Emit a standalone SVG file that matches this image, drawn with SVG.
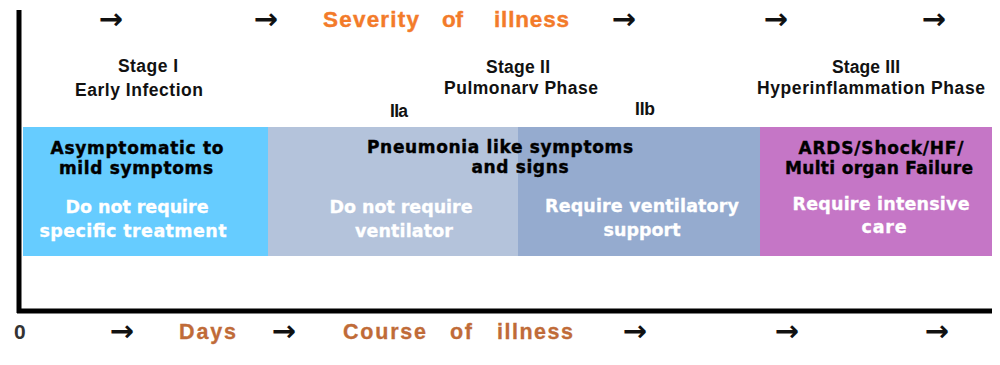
<svg xmlns="http://www.w3.org/2000/svg" width="1000" height="365" viewBox="0 0 1000 365">
<style>
text{font-family:"Liberation Sans",Arial,sans-serif;font-weight:bold;}
.lbl{font-size:17.5px;fill:#111;text-anchor:middle;}
.hd{font-family:"DejaVu Sans",sans-serif;font-size:17px;fill:#000;text-anchor:middle;stroke:#000;stroke-width:0.4px;}
.wt{font-family:"DejaVu Sans",sans-serif;font-size:17.5px;fill:#fff;text-anchor:middle;stroke:#fff;stroke-width:0.3px;}
.arr{font-family:"DejaVu Sans",sans-serif;font-size:29px;fill:#111;text-anchor:middle;}
.sev{font-size:22.5px;fill:#F37B2A;stroke:#F37B2A;stroke-width:0.4px;}
.crs{font-size:21.5px;fill:#C06B38;stroke:#C06B38;stroke-width:0.3px;}
.axis{stroke:#000;stroke-width:5;fill:none;}
</style>
<rect width="1000" height="365" fill="#fff"/>
<g id="connectors">
<line class="axis" x1="19" y1="10" x2="19" y2="313"/>
<line class="axis" x1="17" y1="311" x2="992" y2="311"/>
</g>
<g id="top-axis-label">
<text class="arr" x="111" y="29">→</text>
<text class="arr" x="266" y="29">→</text>
<text class="arr" x="624" y="29">→</text>
<text class="arr" x="776" y="29">→</text>
<text class="arr" x="934" y="29">→</text>
<text class="sev" y="27"><tspan x="323" textLength="96" lengthAdjust="spacing">Severity</tspan><tspan x="442" textLength="21" lengthAdjust="spacing">of</tspan><tspan x="494" textLength="75" lengthAdjust="spacing">illness</tspan></text>
</g>
<g id="stage-labels">
<text class="lbl" x="148" y="72" textLength="60" lengthAdjust="spacing">Stage I</text>
<text class="lbl" x="139" y="96" textLength="128" lengthAdjust="spacing">Early Infection</text>
<text class="lbl" x="518" y="73" textLength="64" lengthAdjust="spacing">Stage II</text>
<text class="lbl" x="521" y="94" textLength="154" lengthAdjust="spacing">Pulmonarv Phase</text>
<text class="lbl" x="399" y="117" textLength="18" lengthAdjust="spacing">IIa</text>
<text class="lbl" x="645" y="115" textLength="20" lengthAdjust="spacing">IIb</text>
<text class="lbl" x="866" y="73" textLength="68" lengthAdjust="spacing">Stage III</text>
<text class="lbl" x="871" y="94" textLength="228" lengthAdjust="spacing">Hyperinflammation Phase</text>
</g>
<g id="box-stage1">
<rect x="23" y="127" width="245" height="129" fill="#66CCFF"/>
<text class="hd" x="137" y="154" textLength="173" lengthAdjust="spacing">Asymptomatic to</text>
<text class="hd" x="136" y="174" textLength="154" lengthAdjust="spacing">mild symptoms</text>
<text class="wt" x="137" y="213" textLength="143" lengthAdjust="spacing">Do not require</text>
<text class="wt" x="133" y="237" textLength="187" lengthAdjust="spacing">specific treatment</text>
</g>
<g id="box-stage2a">
<rect x="268" y="127" width="250" height="129" fill="#B4C3DB"/>
<text class="wt" x="401" y="213" textLength="143" lengthAdjust="spacing">Do not require</text>
<text class="wt" x="404" y="237" textLength="98" lengthAdjust="spacing">ventilator</text>
</g>
<g id="box-stage2b">
<rect x="518" y="127" width="242" height="129" fill="#95ABCF"/>
<text class="wt" x="642" y="212" textLength="194" lengthAdjust="spacing">Require ventilatory</text>
<text class="wt" x="642" y="236" textLength="77" lengthAdjust="spacing">support</text>
</g>
<g id="stage2-heading">
<text class="hd" x="500" y="153" textLength="266" lengthAdjust="spacing">Pneumonia like symptoms</text>
<text class="hd" x="520" y="173" textLength="97" lengthAdjust="spacing">and signs</text>
</g>
<g id="box-stage3">
<rect x="760" y="127" width="232" height="129" fill="#C576C6"/>
<text class="hd" x="881" y="154" textLength="165" lengthAdjust="spacing">ARDS/Shock/HF/</text>
<text class="hd" x="879" y="174" textLength="188" lengthAdjust="spacing">Multi organ Failure</text>
<text class="wt" x="881" y="210" textLength="177" lengthAdjust="spacing">Require intensive</text>
<text class="wt" x="884" y="233" textLength="45" lengthAdjust="spacing">care</text>
</g>
<g id="bottom-axis-label">
<text x="14" y="339" font-size="21" fill="#333">0</text>
<text class="arr" x="122" y="341">→</text>
<text class="arr" x="284" y="341">→</text>
<text class="arr" x="635" y="341">→</text>
<text class="arr" x="787" y="341">→</text>
<text class="arr" x="937" y="341">→</text>
<text class="crs" x="179" y="339" textLength="57" lengthAdjust="spacing">Days</text>
<text class="crs" y="339"><tspan x="343" textLength="83" lengthAdjust="spacing">Course</tspan><tspan x="450" textLength="22" lengthAdjust="spacing">of</tspan><tspan x="497" textLength="76" lengthAdjust="spacing">illness</tspan></text>
</g>
</svg>
